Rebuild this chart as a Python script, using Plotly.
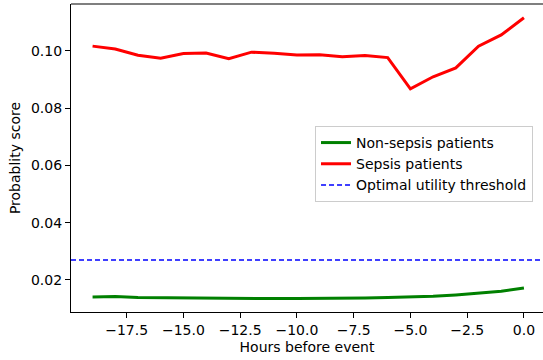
import plotly.graph_objects as go

hours = [-19, -18, -17, -16, -15, -14, -13, -12, -11, -10, -9, -8, -7, -6, -5, -4, -3, -2, -1, 0]
sepsis = [0.1016, 0.1006, 0.0984, 0.0974, 0.0990, 0.0992, 0.0972, 0.0995, 0.0991, 0.0985,
          0.0986, 0.0979, 0.0983, 0.0976, 0.0867, 0.0909, 0.0940, 0.1016, 0.1055, 0.1115]
non_sepsis = [0.0141, 0.0142, 0.0139, 0.0138, 0.0137, 0.0136, 0.0136, 0.0135, 0.0135, 0.0135,
              0.0135, 0.0136, 0.0137, 0.0139, 0.0140, 0.0143, 0.0148, 0.0154, 0.0161, 0.0172]
threshold = 0.027
xticks = [-17.5, -15.0, -12.5, -10.0, -7.5, -5.0, -2.5, 0.0]
yticks = [0.02, 0.04, 0.06, 0.08, 0.10]

font = "DejaVu Sans"
fig = go.Figure()
fig.add_trace(go.Scatter(x=hours, y=non_sepsis, mode="lines", name="Non-sepsis patients",
                         line=dict(color="green", width=3)))
fig.add_trace(go.Scatter(x=hours, y=sepsis, mode="lines", name="Sepsis patients",
                         line=dict(color="red", width=3)))
fig.add_trace(go.Scatter(x=[-19.95, 0.95], y=[threshold, threshold], mode="lines",
                         name="Optimal utility threshold",
                         line=dict(color="blue", width=1.5, dash="5px,3px")))

fig.update_layout(
    width=543, height=360,
    margin=dict(l=71, r=0, t=4, b=48),
    plot_bgcolor="white", paper_bgcolor="white",
    font=dict(family=font, size=14, color="black"),
    showlegend=True,
    legend=dict(x=0.517, y=0.604, xanchor="left", yanchor="top",
                bgcolor="rgba(255,255,255,0.8)", bordercolor="#cccccc", borderwidth=1,
                font=dict(family=font, size=14), tracegroupgap=0, itemwidth=30),
    shapes=[dict(type="line", xref="paper", yref="paper", x0=0, x1=1, y0=1, y1=1,
                 line=dict(color="black", width=1.2))],
)
fig.update_xaxes(range=[-19.95, 0.84], tickvals=xticks,
                 ticktext=[f"{v:.1f}".replace("-", "−") for v in xticks],
                 showgrid=False, zeroline=False, showline=True, linecolor="black", linewidth=1.2,
                 ticks="outside", ticklen=5, tickcolor="black",
                 title=dict(text="Hours before event", font=dict(size=14), standoff=5))
fig.update_yaxes(range=[0.00883, 0.1163], tickvals=yticks,
                 ticktext=[f"{v:.2f}" for v in yticks],
                 showgrid=False, zeroline=False, showline=True, linecolor="black", linewidth=1.2,
                 ticks="outside", ticklen=5, tickcolor="black",
                 title=dict(text="Probablity score", font=dict(size=14), standoff=7))

fig.write_html("out.html")
